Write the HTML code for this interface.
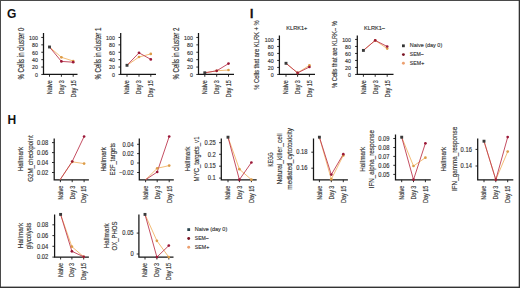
<!DOCTYPE html>
<html><head><meta charset="utf-8"><title>Figure</title>
<style>
html,body{margin:0;padding:0;background:#fff;}
body{width:520px;height:288px;overflow:hidden;}
.wrap{position:relative;width:520px;height:288px;background:#fff;}
svg{position:absolute;left:0;top:0;}
text{font-family:"Liberation Sans",sans-serif;fill:#333;stroke:#333;stroke-width:0.15px;}
</style></head>
<body><div class="wrap">
<svg width="520" height="288" viewBox="0 0 520 288">
<path d="M43.5 33V74.45H77.5" fill="none" stroke="#151515" stroke-width="1.25"/>
<path d="M41.3 74.45H43.5" stroke="#151515" stroke-width="0.9"/>
<text x="37.9" y="76.81" font-size="6.09" text-anchor="end" textLength="2.95" lengthAdjust="spacingAndGlyphs">0</text>
<path d="M41.3 67.05H43.5" stroke="#151515" stroke-width="0.9"/>
<text x="37.9" y="69.41" font-size="6.09" text-anchor="end" textLength="5.89" lengthAdjust="spacingAndGlyphs">20</text>
<path d="M41.3 59.65H43.5" stroke="#151515" stroke-width="0.9"/>
<text x="37.9" y="62.01" font-size="6.09" text-anchor="end" textLength="5.89" lengthAdjust="spacingAndGlyphs">40</text>
<path d="M41.3 52.25H43.5" stroke="#151515" stroke-width="0.9"/>
<text x="37.9" y="54.61" font-size="6.09" text-anchor="end" textLength="5.89" lengthAdjust="spacingAndGlyphs">60</text>
<path d="M41.3 44.85H43.5" stroke="#151515" stroke-width="0.9"/>
<text x="37.9" y="47.21" font-size="6.09" text-anchor="end" textLength="5.89" lengthAdjust="spacingAndGlyphs">80</text>
<path d="M41.3 37.45H43.5" stroke="#151515" stroke-width="0.9"/>
<text x="37.9" y="39.81" font-size="6.09" text-anchor="end" textLength="8.84" lengthAdjust="spacingAndGlyphs">100</text>
<path d="M49.5 74.45V76.75" stroke="#151515" stroke-width="0.9"/>
<text transform="translate(51.8 80.25) rotate(-90)" font-size="6.4" text-anchor="end" textLength="14.0" lengthAdjust="spacingAndGlyphs">Naive</text>
<path d="M61.4 74.45V76.75" stroke="#151515" stroke-width="0.9"/>
<text transform="translate(63.7 80.25) rotate(-90)" font-size="6.4" text-anchor="end" textLength="13.9" lengthAdjust="spacingAndGlyphs">Day 3</text>
<path d="M73.2 74.45V76.75" stroke="#151515" stroke-width="0.9"/>
<text transform="translate(75.5 80.25) rotate(-90)" font-size="6.4" text-anchor="end" textLength="17.2" lengthAdjust="spacingAndGlyphs">Day 15</text>
<polyline points="49.5,47 61.4,57.3 73.2,61" fill="none" stroke="#f2b466" stroke-width="0.9"/>
<polyline points="49.5,47 61.4,61.4 73.2,62.2" fill="none" stroke="#bd3a50" stroke-width="0.9"/>
<circle cx="61.4" cy="57.3" r="1.35" fill="#dc9c48"/>
<circle cx="73.2" cy="61" r="1.35" fill="#dc9c48"/>
<circle cx="61.4" cy="61.4" r="1.35" fill="#9a1838"/>
<circle cx="73.2" cy="62.2" r="1.35" fill="#9a1838"/>
<rect x="48.05" y="45.55" width="2.9" height="2.9" fill="#3a3a3a"/>
<text transform="translate(23.8 53.6) rotate(-90)" font-size="8.2" text-anchor="middle" textLength="52.0" lengthAdjust="spacingAndGlyphs">% Cells in cluster 0</text>
<path d="M120.7 33V74.45H156" fill="none" stroke="#151515" stroke-width="1.25"/>
<path d="M118.5 74.45H120.7" stroke="#151515" stroke-width="0.9"/>
<text x="114.9" y="76.81" font-size="6.09" text-anchor="end" textLength="2.95" lengthAdjust="spacingAndGlyphs">0</text>
<path d="M118.5 67.05H120.7" stroke="#151515" stroke-width="0.9"/>
<text x="114.9" y="69.41" font-size="6.09" text-anchor="end" textLength="5.89" lengthAdjust="spacingAndGlyphs">20</text>
<path d="M118.5 59.65H120.7" stroke="#151515" stroke-width="0.9"/>
<text x="114.9" y="62.01" font-size="6.09" text-anchor="end" textLength="5.89" lengthAdjust="spacingAndGlyphs">40</text>
<path d="M118.5 52.25H120.7" stroke="#151515" stroke-width="0.9"/>
<text x="114.9" y="54.61" font-size="6.09" text-anchor="end" textLength="5.89" lengthAdjust="spacingAndGlyphs">60</text>
<path d="M118.5 44.85H120.7" stroke="#151515" stroke-width="0.9"/>
<text x="114.9" y="47.21" font-size="6.09" text-anchor="end" textLength="5.89" lengthAdjust="spacingAndGlyphs">80</text>
<path d="M118.5 37.45H120.7" stroke="#151515" stroke-width="0.9"/>
<text x="114.9" y="39.81" font-size="6.09" text-anchor="end" textLength="8.84" lengthAdjust="spacingAndGlyphs">100</text>
<path d="M127 74.45V76.75" stroke="#151515" stroke-width="0.9"/>
<text transform="translate(129.3 80.25) rotate(-90)" font-size="6.4" text-anchor="end" textLength="14.0" lengthAdjust="spacingAndGlyphs">Naive</text>
<path d="M139 74.45V76.75" stroke="#151515" stroke-width="0.9"/>
<text transform="translate(141.3 80.25) rotate(-90)" font-size="6.4" text-anchor="end" textLength="13.9" lengthAdjust="spacingAndGlyphs">Day 3</text>
<path d="M150.8 74.45V76.75" stroke="#151515" stroke-width="0.9"/>
<text transform="translate(153.1 80.25) rotate(-90)" font-size="6.4" text-anchor="end" textLength="17.2" lengthAdjust="spacingAndGlyphs">Day 15</text>
<polyline points="127,65.3 139,57 150.8,53.9" fill="none" stroke="#f2b466" stroke-width="0.9"/>
<polyline points="127,65.3 139,52.8 150.8,59.4" fill="none" stroke="#bd3a50" stroke-width="0.9"/>
<circle cx="139" cy="57" r="1.35" fill="#dc9c48"/>
<circle cx="150.8" cy="53.9" r="1.35" fill="#dc9c48"/>
<circle cx="139" cy="52.8" r="1.35" fill="#9a1838"/>
<circle cx="150.8" cy="59.4" r="1.35" fill="#9a1838"/>
<rect x="125.55" y="63.85" width="2.9" height="2.9" fill="#3a3a3a"/>
<text transform="translate(101.4 53.6) rotate(-90)" font-size="8.2" text-anchor="middle" textLength="52.0" lengthAdjust="spacingAndGlyphs">% Cells in cluster 1</text>
<path d="M198.5 33V74.45H234" fill="none" stroke="#151515" stroke-width="1.25"/>
<path d="M196.3 74.45H198.5" stroke="#151515" stroke-width="0.9"/>
<text x="192.9" y="76.81" font-size="6.09" text-anchor="end" textLength="2.95" lengthAdjust="spacingAndGlyphs">0</text>
<path d="M196.3 67.05H198.5" stroke="#151515" stroke-width="0.9"/>
<text x="192.9" y="69.41" font-size="6.09" text-anchor="end" textLength="5.89" lengthAdjust="spacingAndGlyphs">20</text>
<path d="M196.3 59.65H198.5" stroke="#151515" stroke-width="0.9"/>
<text x="192.9" y="62.01" font-size="6.09" text-anchor="end" textLength="5.89" lengthAdjust="spacingAndGlyphs">40</text>
<path d="M196.3 52.25H198.5" stroke="#151515" stroke-width="0.9"/>
<text x="192.9" y="54.61" font-size="6.09" text-anchor="end" textLength="5.89" lengthAdjust="spacingAndGlyphs">60</text>
<path d="M196.3 44.85H198.5" stroke="#151515" stroke-width="0.9"/>
<text x="192.9" y="47.21" font-size="6.09" text-anchor="end" textLength="5.89" lengthAdjust="spacingAndGlyphs">80</text>
<path d="M196.3 37.45H198.5" stroke="#151515" stroke-width="0.9"/>
<text x="192.9" y="39.81" font-size="6.09" text-anchor="end" textLength="8.84" lengthAdjust="spacingAndGlyphs">100</text>
<path d="M204.8 74.45V76.75" stroke="#151515" stroke-width="0.9"/>
<text transform="translate(207.1 80.25) rotate(-90)" font-size="6.4" text-anchor="end" textLength="14.0" lengthAdjust="spacingAndGlyphs">Naive</text>
<path d="M216.7 74.45V76.75" stroke="#151515" stroke-width="0.9"/>
<text transform="translate(219 80.25) rotate(-90)" font-size="6.4" text-anchor="end" textLength="13.9" lengthAdjust="spacingAndGlyphs">Day 3</text>
<path d="M228.5 74.45V76.75" stroke="#151515" stroke-width="0.9"/>
<text transform="translate(230.8 80.25) rotate(-90)" font-size="6.4" text-anchor="end" textLength="17.2" lengthAdjust="spacingAndGlyphs">Day 15</text>
<polyline points="204.8,72.8 216.7,70.8 228.5,70" fill="none" stroke="#f2b466" stroke-width="0.9"/>
<polyline points="204.8,72.8 216.7,70.8 228.5,63.6" fill="none" stroke="#bd3a50" stroke-width="0.9"/>
<circle cx="216.7" cy="70.8" r="1.35" fill="#dc9c48"/>
<circle cx="228.5" cy="70" r="1.35" fill="#dc9c48"/>
<circle cx="216.7" cy="70.8" r="1.35" fill="#9a1838"/>
<circle cx="228.5" cy="63.6" r="1.35" fill="#9a1838"/>
<rect x="203.35" y="71.35" width="2.9" height="2.9" fill="#3a3a3a"/>
<text transform="translate(178.5 53.6) rotate(-90)" font-size="8.2" text-anchor="middle" textLength="52.0" lengthAdjust="spacingAndGlyphs">% Cells in cluster 2</text>
<path d="M279.4 35.4V74.45H315" fill="none" stroke="#151515" stroke-width="1.25"/>
<path d="M277.2 74.45H279.4" stroke="#151515" stroke-width="0.9"/>
<text x="273.6" y="76.81" font-size="6.09" text-anchor="end" textLength="2.95" lengthAdjust="spacingAndGlyphs">0</text>
<path d="M277.2 67.45H279.4" stroke="#151515" stroke-width="0.9"/>
<text x="273.6" y="69.81" font-size="6.09" text-anchor="end" textLength="5.89" lengthAdjust="spacingAndGlyphs">20</text>
<path d="M277.2 60.45H279.4" stroke="#151515" stroke-width="0.9"/>
<text x="273.6" y="62.81" font-size="6.09" text-anchor="end" textLength="5.89" lengthAdjust="spacingAndGlyphs">40</text>
<path d="M277.2 53.45H279.4" stroke="#151515" stroke-width="0.9"/>
<text x="273.6" y="55.81" font-size="6.09" text-anchor="end" textLength="5.89" lengthAdjust="spacingAndGlyphs">60</text>
<path d="M277.2 46.45H279.4" stroke="#151515" stroke-width="0.9"/>
<text x="273.6" y="48.81" font-size="6.09" text-anchor="end" textLength="5.89" lengthAdjust="spacingAndGlyphs">80</text>
<path d="M277.2 39.45H279.4" stroke="#151515" stroke-width="0.9"/>
<text x="273.6" y="41.81" font-size="6.09" text-anchor="end" textLength="8.84" lengthAdjust="spacingAndGlyphs">100</text>
<path d="M286 74.45V76.75" stroke="#151515" stroke-width="0.9"/>
<text transform="translate(288.3 80.25) rotate(-90)" font-size="6.4" text-anchor="end" textLength="14.0" lengthAdjust="spacingAndGlyphs">Naive</text>
<path d="M297.6 74.45V76.75" stroke="#151515" stroke-width="0.9"/>
<text transform="translate(299.9 80.25) rotate(-90)" font-size="6.4" text-anchor="end" textLength="13.9" lengthAdjust="spacingAndGlyphs">Day 3</text>
<path d="M309.4 74.45V76.75" stroke="#151515" stroke-width="0.9"/>
<text transform="translate(311.7 80.25) rotate(-90)" font-size="6.4" text-anchor="end" textLength="17.2" lengthAdjust="spacingAndGlyphs">Day 15</text>
<polyline points="286,63.3 297.6,72.9 309.4,65.3" fill="none" stroke="#f2b466" stroke-width="0.9"/>
<polyline points="286,63.3 297.6,72.9 309.4,67" fill="none" stroke="#bd3a50" stroke-width="0.9"/>
<circle cx="297.6" cy="72.9" r="1.35" fill="#dc9c48"/>
<circle cx="309.4" cy="65.3" r="1.35" fill="#dc9c48"/>
<circle cx="297.6" cy="72.9" r="1.35" fill="#9a1838"/>
<circle cx="309.4" cy="67" r="1.35" fill="#9a1838"/>
<rect x="284.55" y="61.85" width="2.9" height="2.9" fill="#3a3a3a"/>
<text transform="translate(259.1 55) rotate(-90)" font-size="8.0" text-anchor="middle" textLength="69.4" lengthAdjust="spacingAndGlyphs">% Cells that are KLRK + %</text>
<text x="296.8" y="29.9" font-size="5.6" text-anchor="middle">KLRK1+</text>
<path d="M357.3 35.4V74.45H393.5" fill="none" stroke="#151515" stroke-width="1.25"/>
<path d="M355.1 74.45H357.3" stroke="#151515" stroke-width="0.9"/>
<text x="351" y="76.81" font-size="6.09" text-anchor="end" textLength="2.95" lengthAdjust="spacingAndGlyphs">0</text>
<path d="M355.1 67.45H357.3" stroke="#151515" stroke-width="0.9"/>
<text x="351" y="69.81" font-size="6.09" text-anchor="end" textLength="5.89" lengthAdjust="spacingAndGlyphs">20</text>
<path d="M355.1 60.45H357.3" stroke="#151515" stroke-width="0.9"/>
<text x="351" y="62.81" font-size="6.09" text-anchor="end" textLength="5.89" lengthAdjust="spacingAndGlyphs">40</text>
<path d="M355.1 53.45H357.3" stroke="#151515" stroke-width="0.9"/>
<text x="351" y="55.81" font-size="6.09" text-anchor="end" textLength="5.89" lengthAdjust="spacingAndGlyphs">60</text>
<path d="M355.1 46.45H357.3" stroke="#151515" stroke-width="0.9"/>
<text x="351" y="48.81" font-size="6.09" text-anchor="end" textLength="5.89" lengthAdjust="spacingAndGlyphs">80</text>
<path d="M355.1 39.45H357.3" stroke="#151515" stroke-width="0.9"/>
<text x="351" y="41.81" font-size="6.09" text-anchor="end" textLength="8.84" lengthAdjust="spacingAndGlyphs">100</text>
<path d="M363.4 74.45V76.75" stroke="#151515" stroke-width="0.9"/>
<text transform="translate(365.7 80.25) rotate(-90)" font-size="6.4" text-anchor="end" textLength="14.0" lengthAdjust="spacingAndGlyphs">Naive</text>
<path d="M375.2 74.45V76.75" stroke="#151515" stroke-width="0.9"/>
<text transform="translate(377.5 80.25) rotate(-90)" font-size="6.4" text-anchor="end" textLength="13.9" lengthAdjust="spacingAndGlyphs">Day 3</text>
<path d="M387.2 74.45V76.75" stroke="#151515" stroke-width="0.9"/>
<text transform="translate(389.5 80.25) rotate(-90)" font-size="6.4" text-anchor="end" textLength="17.2" lengthAdjust="spacingAndGlyphs">Day 15</text>
<polyline points="363.4,50.4 375.2,40.4 387.2,48.6" fill="none" stroke="#f2b466" stroke-width="0.9"/>
<polyline points="363.4,50.4 375.2,40.4 387.2,46.5" fill="none" stroke="#bd3a50" stroke-width="0.9"/>
<circle cx="375.2" cy="40.4" r="1.35" fill="#dc9c48"/>
<circle cx="387.2" cy="48.6" r="1.35" fill="#dc9c48"/>
<circle cx="375.2" cy="40.4" r="1.35" fill="#9a1838"/>
<circle cx="387.2" cy="46.5" r="1.35" fill="#9a1838"/>
<rect x="361.95" y="48.95" width="2.9" height="2.9" fill="#3a3a3a"/>
<text transform="translate(337.2 54.6) rotate(-90)" font-size="8.0" text-anchor="middle" textLength="66.6" lengthAdjust="spacingAndGlyphs">% Cells that are KLRK– %</text>
<text x="374.5" y="29.9" font-size="5.6" text-anchor="middle">KLRK1–</text>
<path d="M54.2 138.5V179.9H88.9" fill="none" stroke="#151515" stroke-width="1.25"/>
<path d="M52 142.6H54.2" stroke="#151515" stroke-width="0.9"/>
<text x="48.2" y="144.84" font-size="6.67" text-anchor="end" textLength="11.29" lengthAdjust="spacingAndGlyphs">0.08</text>
<path d="M52 152.6H54.2" stroke="#151515" stroke-width="0.9"/>
<text x="48.2" y="154.84" font-size="6.67" text-anchor="end" textLength="11.29" lengthAdjust="spacingAndGlyphs">0.06</text>
<path d="M52 162.5H54.2" stroke="#151515" stroke-width="0.9"/>
<text x="48.2" y="164.74" font-size="6.67" text-anchor="end" textLength="11.29" lengthAdjust="spacingAndGlyphs">0.04</text>
<path d="M52 172.5H54.2" stroke="#151515" stroke-width="0.9"/>
<text x="48.2" y="174.74" font-size="6.67" text-anchor="end" textLength="11.29" lengthAdjust="spacingAndGlyphs">0.02</text>
<path d="M60.4 179.9V182.2" stroke="#151515" stroke-width="0.9"/>
<text transform="translate(62.7 185.7) rotate(-90)" font-size="6.4" text-anchor="end" textLength="14.0" lengthAdjust="spacingAndGlyphs">Naive</text>
<path d="M72.2 179.9V182.2" stroke="#151515" stroke-width="0.9"/>
<text transform="translate(74.5 185.7) rotate(-90)" font-size="6.4" text-anchor="end" textLength="13.9" lengthAdjust="spacingAndGlyphs">Day 3</text>
<path d="M84.1 179.9V182.2" stroke="#151515" stroke-width="0.9"/>
<text transform="translate(86.4 185.7) rotate(-90)" font-size="6.4" text-anchor="end" textLength="17.2" lengthAdjust="spacingAndGlyphs">Day 15</text>
<polyline points="60.1,179.7 72.2,161.8 84.1,163.6" fill="none" stroke="#f2b466" stroke-width="0.9"/>
<polyline points="60.1,179.7 72.2,161.5 84.1,136.5" fill="none" stroke="#bd3a50" stroke-width="0.9"/>
<circle cx="72.2" cy="161.8" r="1.35" fill="#dc9c48"/>
<circle cx="84.1" cy="163.6" r="1.35" fill="#dc9c48"/>
<circle cx="72.2" cy="161.5" r="1.35" fill="#9a1838"/>
<circle cx="84.1" cy="136.5" r="1.35" fill="#9a1838"/>
<text transform="translate(23 159.1) rotate(-90)" font-size="7.8" text-anchor="middle" textLength="24.5" lengthAdjust="spacingAndGlyphs">Hallmark</text>
<text transform="translate(33.3 158.6) rotate(-90)" font-size="7.8" text-anchor="middle" textLength="46.5" lengthAdjust="spacingAndGlyphs">G2M_checkpoint</text>
<path d="M139.3 138.5V179.9H173.8" fill="none" stroke="#151515" stroke-width="1.25"/>
<path d="M137.1 144.3H139.3" stroke="#151515" stroke-width="0.9"/>
<text x="133.8" y="146.54" font-size="6.67" text-anchor="end" textLength="11.29" lengthAdjust="spacingAndGlyphs">0.04</text>
<path d="M137.1 153.6H139.3" stroke="#151515" stroke-width="0.9"/>
<text x="133.8" y="155.84" font-size="6.67" text-anchor="end" textLength="11.29" lengthAdjust="spacingAndGlyphs">0.02</text>
<path d="M137.1 163H139.3" stroke="#151515" stroke-width="0.9"/>
<text x="133.8" y="165.24" font-size="6.67" text-anchor="end" textLength="3.22" lengthAdjust="spacingAndGlyphs">0</text>
<path d="M137.1 172.5H139.3" stroke="#151515" stroke-width="0.9"/>
<text x="133.8" y="174.74" font-size="6.67" text-anchor="end" textLength="14.67" lengthAdjust="spacingAndGlyphs">−0.02</text>
<path d="M145.6 179.9V182.2" stroke="#151515" stroke-width="0.9"/>
<text transform="translate(147.9 185.7) rotate(-90)" font-size="6.4" text-anchor="end" textLength="14.0" lengthAdjust="spacingAndGlyphs">Naive</text>
<path d="M157.2 179.9V182.2" stroke="#151515" stroke-width="0.9"/>
<text transform="translate(159.5 185.7) rotate(-90)" font-size="6.4" text-anchor="end" textLength="13.9" lengthAdjust="spacingAndGlyphs">Day 3</text>
<path d="M169.2 179.9V182.2" stroke="#151515" stroke-width="0.9"/>
<text transform="translate(171.5 185.7) rotate(-90)" font-size="6.4" text-anchor="end" textLength="17.2" lengthAdjust="spacingAndGlyphs">Day 15</text>
<polyline points="145.6,179.7 157.2,168.3 169.2,165.6" fill="none" stroke="#f2b466" stroke-width="0.9"/>
<polyline points="145.6,179.7 157.2,172 169.2,136.5" fill="none" stroke="#bd3a50" stroke-width="0.9"/>
<circle cx="157.2" cy="168.3" r="1.35" fill="#dc9c48"/>
<circle cx="169.2" cy="165.6" r="1.35" fill="#dc9c48"/>
<circle cx="157.2" cy="172" r="1.35" fill="#9a1838"/>
<circle cx="169.2" cy="136.5" r="1.35" fill="#9a1838"/>
<text transform="translate(105.7 159.4) rotate(-90)" font-size="7.8" text-anchor="middle" textLength="24.2" lengthAdjust="spacingAndGlyphs">Hallmark</text>
<text transform="translate(114.8 159.2) rotate(-90)" font-size="7.8" text-anchor="middle" textLength="32.5" lengthAdjust="spacingAndGlyphs">E2F_targets</text>
<path d="M221.3 138.5V179.9H256.7" fill="none" stroke="#151515" stroke-width="1.25"/>
<path d="M219.1 142.7H221.3" stroke="#151515" stroke-width="0.9"/>
<text x="215.8" y="144.94" font-size="6.67" text-anchor="end" textLength="11.29" lengthAdjust="spacingAndGlyphs">0.25</text>
<path d="M219.1 154.3H221.3" stroke="#151515" stroke-width="0.9"/>
<text x="215.8" y="156.54" font-size="6.67" text-anchor="end" textLength="8.06" lengthAdjust="spacingAndGlyphs">0.2</text>
<path d="M219.1 166.2H221.3" stroke="#151515" stroke-width="0.9"/>
<text x="215.8" y="168.44" font-size="6.67" text-anchor="end" textLength="11.29" lengthAdjust="spacingAndGlyphs">0.15</text>
<path d="M219.1 178.1H221.3" stroke="#151515" stroke-width="0.9"/>
<text x="215.8" y="180.34" font-size="6.67" text-anchor="end" textLength="8.06" lengthAdjust="spacingAndGlyphs">0.1</text>
<path d="M228 179.9V182.2" stroke="#151515" stroke-width="0.9"/>
<text transform="translate(230.3 185.7) rotate(-90)" font-size="6.4" text-anchor="end" textLength="14.0" lengthAdjust="spacingAndGlyphs">Naive</text>
<path d="M239.4 179.9V182.2" stroke="#151515" stroke-width="0.9"/>
<text transform="translate(241.7 185.7) rotate(-90)" font-size="6.4" text-anchor="end" textLength="13.9" lengthAdjust="spacingAndGlyphs">Day 3</text>
<path d="M251.4 179.9V182.2" stroke="#151515" stroke-width="0.9"/>
<text transform="translate(253.7 185.7) rotate(-90)" font-size="6.4" text-anchor="end" textLength="17.2" lengthAdjust="spacingAndGlyphs">Day 15</text>
<polyline points="228,137.2 239.4,169.2 251.4,179.7" fill="none" stroke="#f2b466" stroke-width="0.9"/>
<polyline points="228,137.2 239.4,179.7 251.4,162.5" fill="none" stroke="#bd3a50" stroke-width="0.9"/>
<circle cx="239.4" cy="169.2" r="1.35" fill="#dc9c48"/>
<circle cx="251.4" cy="179.7" r="1.35" fill="#dc9c48"/>
<circle cx="239.4" cy="179.7" r="1.35" fill="#9a1838"/>
<circle cx="251.4" cy="162.5" r="1.35" fill="#9a1838"/>
<rect x="226.55" y="135.75" width="2.9" height="2.9" fill="#3a3a3a"/>
<text transform="translate(190.4 159) rotate(-90)" font-size="7.8" text-anchor="middle" textLength="25.0" lengthAdjust="spacingAndGlyphs">Hallmark</text>
<text transform="translate(198.8 159) rotate(-90)" font-size="7.8" text-anchor="middle" textLength="45.0" lengthAdjust="spacingAndGlyphs">MYC_targets_v1</text>
<path d="M313.5 138.5V179.9H347.9" fill="none" stroke="#151515" stroke-width="1.25"/>
<path d="M311.3 152.2H313.5" stroke="#151515" stroke-width="0.9"/>
<text x="307.5" y="154.44" font-size="6.67" text-anchor="end" textLength="11.29" lengthAdjust="spacingAndGlyphs">0.18</text>
<path d="M311.3 168.2H313.5" stroke="#151515" stroke-width="0.9"/>
<text x="307.5" y="170.44" font-size="6.67" text-anchor="end" textLength="11.29" lengthAdjust="spacingAndGlyphs">0.16</text>
<path d="M319.4 179.9V182.2" stroke="#151515" stroke-width="0.9"/>
<text transform="translate(321.7 185.7) rotate(-90)" font-size="6.4" text-anchor="end" textLength="14.0" lengthAdjust="spacingAndGlyphs">Naive</text>
<path d="M331.3 179.9V182.2" stroke="#151515" stroke-width="0.9"/>
<text transform="translate(333.6 185.7) rotate(-90)" font-size="6.4" text-anchor="end" textLength="13.9" lengthAdjust="spacingAndGlyphs">Day 3</text>
<path d="M343.3 179.9V182.2" stroke="#151515" stroke-width="0.9"/>
<text transform="translate(345.6 185.7) rotate(-90)" font-size="6.4" text-anchor="end" textLength="17.2" lengthAdjust="spacingAndGlyphs">Day 15</text>
<polyline points="319.4,137.2 331.3,179.2 343.3,155.4" fill="none" stroke="#f2b466" stroke-width="0.9"/>
<polyline points="319.4,137.2 331.3,174.6 343.3,154.2" fill="none" stroke="#bd3a50" stroke-width="0.9"/>
<circle cx="331.3" cy="179.2" r="1.35" fill="#dc9c48"/>
<circle cx="343.3" cy="155.4" r="1.35" fill="#dc9c48"/>
<circle cx="331.3" cy="174.6" r="1.35" fill="#9a1838"/>
<circle cx="343.3" cy="154.2" r="1.35" fill="#9a1838"/>
<rect x="317.95" y="135.75" width="2.9" height="2.9" fill="#3a3a3a"/>
<text transform="translate(273.2 159.4) rotate(-90)" font-size="7.8" text-anchor="middle" textLength="14.0" lengthAdjust="spacingAndGlyphs">KEGG</text>
<text transform="translate(282.4 158.95) rotate(-90)" font-size="7.8" text-anchor="middle" textLength="51.2" lengthAdjust="spacingAndGlyphs">Natural_killer_cell</text>
<text transform="translate(291.6 158.9) rotate(-90)" font-size="7.8" text-anchor="middle" textLength="61.6" lengthAdjust="spacingAndGlyphs">mediated_cytotoxicity</text>
<path d="M395.5 134.4V179.9H430.8" fill="none" stroke="#151515" stroke-width="1.25"/>
<path d="M393.3 138.5H395.5" stroke="#151515" stroke-width="0.9"/>
<text x="389.5" y="140.74" font-size="6.67" text-anchor="end" textLength="11.29" lengthAdjust="spacingAndGlyphs">0.09</text>
<path d="M393.3 147.5H395.5" stroke="#151515" stroke-width="0.9"/>
<text x="389.5" y="149.74" font-size="6.67" text-anchor="end" textLength="11.29" lengthAdjust="spacingAndGlyphs">0.08</text>
<path d="M393.3 156.4H395.5" stroke="#151515" stroke-width="0.9"/>
<text x="389.5" y="158.64" font-size="6.67" text-anchor="end" textLength="11.29" lengthAdjust="spacingAndGlyphs">0.07</text>
<path d="M393.3 165.3H395.5" stroke="#151515" stroke-width="0.9"/>
<text x="389.5" y="167.54" font-size="6.67" text-anchor="end" textLength="11.29" lengthAdjust="spacingAndGlyphs">0.06</text>
<path d="M393.3 174.4H395.5" stroke="#151515" stroke-width="0.9"/>
<text x="389.5" y="176.64" font-size="6.67" text-anchor="end" textLength="11.29" lengthAdjust="spacingAndGlyphs">0.05</text>
<path d="M401.7 179.9V182.2" stroke="#151515" stroke-width="0.9"/>
<text transform="translate(404 185.7) rotate(-90)" font-size="6.4" text-anchor="end" textLength="14.0" lengthAdjust="spacingAndGlyphs">Naive</text>
<path d="M413.5 179.9V182.2" stroke="#151515" stroke-width="0.9"/>
<text transform="translate(415.8 185.7) rotate(-90)" font-size="6.4" text-anchor="end" textLength="13.9" lengthAdjust="spacingAndGlyphs">Day 3</text>
<path d="M425.4 179.9V182.2" stroke="#151515" stroke-width="0.9"/>
<text transform="translate(427.7 185.7) rotate(-90)" font-size="6.4" text-anchor="end" textLength="17.2" lengthAdjust="spacingAndGlyphs">Day 15</text>
<polyline points="401.7,137.2 413.5,166 425.4,157.7" fill="none" stroke="#f2b466" stroke-width="0.9"/>
<polyline points="401.7,137.2 413.5,179.7 425.4,143.3" fill="none" stroke="#bd3a50" stroke-width="0.9"/>
<circle cx="413.5" cy="166" r="1.35" fill="#dc9c48"/>
<circle cx="425.4" cy="157.7" r="1.35" fill="#dc9c48"/>
<circle cx="413.5" cy="179.7" r="1.35" fill="#9a1838"/>
<circle cx="425.4" cy="143.3" r="1.35" fill="#9a1838"/>
<rect x="400.25" y="135.75" width="2.9" height="2.9" fill="#3a3a3a"/>
<text transform="translate(364.8 159.25) rotate(-90)" font-size="7.8" text-anchor="middle" textLength="25.0" lengthAdjust="spacingAndGlyphs">Hallmark</text>
<text transform="translate(374 159.15) rotate(-90)" font-size="7.8" text-anchor="middle" textLength="58.3" lengthAdjust="spacingAndGlyphs">IFN_alpha_response</text>
<path d="M477.7 138.5V179.9H513.3" fill="none" stroke="#151515" stroke-width="1.25"/>
<path d="M475.5 149.4H477.7" stroke="#151515" stroke-width="0.9"/>
<text x="471.9" y="151.64" font-size="6.67" text-anchor="end" textLength="11.29" lengthAdjust="spacingAndGlyphs">0.16</text>
<path d="M475.5 166H477.7" stroke="#151515" stroke-width="0.9"/>
<text x="471.9" y="168.24" font-size="6.67" text-anchor="end" textLength="11.29" lengthAdjust="spacingAndGlyphs">0.14</text>
<path d="M484 179.9V182.2" stroke="#151515" stroke-width="0.9"/>
<text transform="translate(486.3 185.7) rotate(-90)" font-size="6.4" text-anchor="end" textLength="14.0" lengthAdjust="spacingAndGlyphs">Naive</text>
<path d="M495.8 179.9V182.2" stroke="#151515" stroke-width="0.9"/>
<text transform="translate(498.1 185.7) rotate(-90)" font-size="6.4" text-anchor="end" textLength="13.9" lengthAdjust="spacingAndGlyphs">Day 3</text>
<path d="M507.7 179.9V182.2" stroke="#151515" stroke-width="0.9"/>
<text transform="translate(510 185.7) rotate(-90)" font-size="6.4" text-anchor="end" textLength="17.2" lengthAdjust="spacingAndGlyphs">Day 15</text>
<polyline points="484,141.2 495.8,179.7 507.7,151.6" fill="none" stroke="#f2b466" stroke-width="0.9"/>
<polyline points="484,141.2 495.8,179.7 507.7,137.1" fill="none" stroke="#bd3a50" stroke-width="0.9"/>
<circle cx="495.8" cy="179.7" r="1.35" fill="#dc9c48"/>
<circle cx="507.7" cy="151.6" r="1.35" fill="#dc9c48"/>
<circle cx="495.8" cy="179.7" r="1.35" fill="#9a1838"/>
<circle cx="507.7" cy="137.1" r="1.35" fill="#9a1838"/>
<rect x="482.55" y="139.75" width="2.9" height="2.9" fill="#3a3a3a"/>
<text transform="translate(445.7 159.15) rotate(-90)" font-size="7.8" text-anchor="middle" textLength="24.6" lengthAdjust="spacingAndGlyphs">Hallmark</text>
<text transform="translate(456.5 158.9) rotate(-90)" font-size="7.8" text-anchor="middle" textLength="64.3" lengthAdjust="spacingAndGlyphs">IFN_gamma_response</text>
<path d="M54.6 214.4V257.2H88.9" fill="none" stroke="#151515" stroke-width="1.25"/>
<path d="M52.4 224.8H54.6" stroke="#151515" stroke-width="0.9"/>
<text x="48.3" y="227.04" font-size="6.67" text-anchor="end" textLength="11.29" lengthAdjust="spacingAndGlyphs">0.08</text>
<path d="M52.4 235.6H54.6" stroke="#151515" stroke-width="0.9"/>
<text x="48.3" y="237.84" font-size="6.67" text-anchor="end" textLength="11.29" lengthAdjust="spacingAndGlyphs">0.06</text>
<path d="M52.4 246.3H54.6" stroke="#151515" stroke-width="0.9"/>
<text x="48.3" y="248.54" font-size="6.67" text-anchor="end" textLength="11.29" lengthAdjust="spacingAndGlyphs">0.04</text>
<path d="M52.4 257.1H54.6" stroke="#151515" stroke-width="0.9"/>
<text x="48.3" y="259.34" font-size="6.67" text-anchor="end" textLength="11.29" lengthAdjust="spacingAndGlyphs">0.02</text>
<path d="M60.6 257.2V259.5" stroke="#151515" stroke-width="0.9"/>
<text transform="translate(62.9 263) rotate(-90)" font-size="6.4" text-anchor="end" textLength="14.0" lengthAdjust="spacingAndGlyphs">Naive</text>
<path d="M71.9 257.2V259.5" stroke="#151515" stroke-width="0.9"/>
<text transform="translate(74.2 263) rotate(-90)" font-size="6.4" text-anchor="end" textLength="13.9" lengthAdjust="spacingAndGlyphs">Day 3</text>
<path d="M83.7 257.2V259.5" stroke="#151515" stroke-width="0.9"/>
<text transform="translate(86 263) rotate(-90)" font-size="6.4" text-anchor="end" textLength="17.2" lengthAdjust="spacingAndGlyphs">Day 15</text>
<polyline points="60.6,214.4 71.9,246.7 83.7,256.8" fill="none" stroke="#f2b466" stroke-width="0.9"/>
<polyline points="60.6,214.4 71.9,251.3 83.7,256.8" fill="none" stroke="#bd3a50" stroke-width="0.9"/>
<circle cx="71.9" cy="246.7" r="1.35" fill="#dc9c48"/>
<circle cx="83.7" cy="256.8" r="1.35" fill="#dc9c48"/>
<circle cx="71.9" cy="251.3" r="1.35" fill="#9a1838"/>
<circle cx="83.7" cy="256.8" r="1.35" fill="#9a1838"/>
<rect x="59.15" y="212.95" width="2.9" height="2.9" fill="#3a3a3a"/>
<text transform="translate(22.9 235.4) rotate(-90)" font-size="7.8" text-anchor="middle" textLength="25.5" lengthAdjust="spacingAndGlyphs">Hallmark</text>
<text transform="translate(31 235.9) rotate(-90)" font-size="7.8" text-anchor="middle" textLength="26.5" lengthAdjust="spacingAndGlyphs">glycolysis</text>
<path d="M138.9 214.4V257.2H173.5" fill="none" stroke="#151515" stroke-width="1.25"/>
<path d="M136.7 233.1H138.9" stroke="#151515" stroke-width="0.9"/>
<text x="133.6" y="235.34" font-size="6.67" text-anchor="end" textLength="11.29" lengthAdjust="spacingAndGlyphs">0.05</text>
<path d="M136.7 254H138.9" stroke="#151515" stroke-width="0.9"/>
<text x="133.6" y="256.24" font-size="6.67" text-anchor="end" textLength="3.22" lengthAdjust="spacingAndGlyphs">0</text>
<path d="M145 257.2V259.5" stroke="#151515" stroke-width="0.9"/>
<text transform="translate(147.3 263) rotate(-90)" font-size="6.4" text-anchor="end" textLength="14.0" lengthAdjust="spacingAndGlyphs">Naive</text>
<path d="M156.9 257.2V259.5" stroke="#151515" stroke-width="0.9"/>
<text transform="translate(159.2 263) rotate(-90)" font-size="6.4" text-anchor="end" textLength="13.9" lengthAdjust="spacingAndGlyphs">Day 3</text>
<path d="M168.8 257.2V259.5" stroke="#151515" stroke-width="0.9"/>
<text transform="translate(171.1 263) rotate(-90)" font-size="6.4" text-anchor="end" textLength="17.2" lengthAdjust="spacingAndGlyphs">Day 15</text>
<polyline points="145,214.4 156.9,240.8 168.8,257.1" fill="none" stroke="#f2b466" stroke-width="0.9"/>
<polyline points="145,214.4 156.9,257.1 168.8,245.6" fill="none" stroke="#bd3a50" stroke-width="0.9"/>
<circle cx="156.9" cy="240.8" r="1.35" fill="#dc9c48"/>
<circle cx="168.8" cy="257.1" r="1.35" fill="#dc9c48"/>
<circle cx="156.9" cy="257.1" r="1.35" fill="#9a1838"/>
<circle cx="168.8" cy="245.6" r="1.35" fill="#9a1838"/>
<rect x="143.55" y="212.95" width="2.9" height="2.9" fill="#3a3a3a"/>
<text transform="translate(108.7 235.8) rotate(-90)" font-size="7.8" text-anchor="middle" textLength="25.0" lengthAdjust="spacingAndGlyphs">Hallmark</text>
<text transform="translate(116.8 236) rotate(-90)" font-size="7.8" text-anchor="middle" textLength="28.8" lengthAdjust="spacingAndGlyphs">OX_PHOS</text>
<rect x="402" y="44.4" width="2.8" height="2.8" fill="#333"/>
<circle cx="403.4" cy="54.6" r="1.45" fill="#7a1424"/>
<circle cx="403.4" cy="63.2" r="1.45" fill="#eca070"/>
<text x="409.8" y="47.4" font-size="6.0" textLength="32.4" lengthAdjust="spacingAndGlyphs">Naive (day 0)</text>
<text x="409.8" y="56.2" font-size="6.0" textLength="13.8" lengthAdjust="spacingAndGlyphs">SEM–</text>
<text x="409.8" y="64.8" font-size="6.0" textLength="14.4" lengthAdjust="spacingAndGlyphs">SEM+</text>
<rect x="187.3" y="228.2" width="2.8" height="2.8" fill="#2c4650"/>
<circle cx="188.7" cy="238.5" r="1.45" fill="#7a1424"/>
<circle cx="188.7" cy="247.3" r="1.45" fill="#eca070"/>
<text x="194.8" y="231.2" font-size="6.0" textLength="32.4" lengthAdjust="spacingAndGlyphs">Naive (day 0)</text>
<text x="194.8" y="240.1" font-size="6.0" textLength="13.8" lengthAdjust="spacingAndGlyphs">SEM–</text>
<text x="194.8" y="248.9" font-size="6.0" textLength="14.4" lengthAdjust="spacingAndGlyphs">SEM+</text>
<text x="6.9" y="17.7" font-size="12" font-weight="bold" style="fill:#111;stroke:none">G</text>
<text x="7.4" y="123.8" font-size="12" font-weight="bold" style="fill:#111;stroke:none">H</text>
<text x="250.1" y="17.6" font-size="12" font-weight="bold" style="fill:#111;stroke:#111;stroke-width:0.3px">I</text>
<rect x="0" y="0" width="520" height="1" fill="#4a4a4a"/>
<rect x="0" y="0" width="1" height="288" fill="#4a4a4a"/>
<rect x="518.7" y="0" width="1.3" height="288" fill="#333"/>
<rect x="0" y="286.6" width="520" height="1.4" fill="#333"/>
</svg>
</div></body></html>
